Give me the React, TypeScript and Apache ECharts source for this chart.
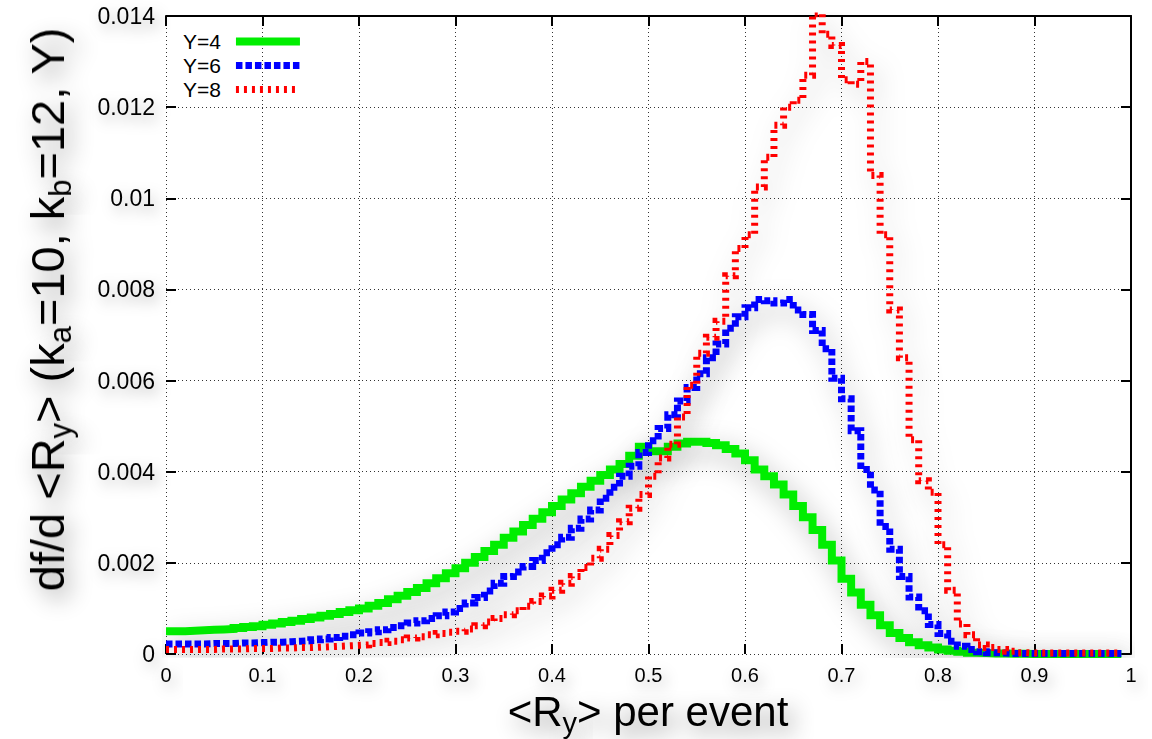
import React, { useEffect, useRef } from "react";
import * as echarts from "echarts";

// Histogram bins: bin i spans [i*BIN_WIDTH, (i+1)*BIN_WIDTH]; values in units of 1e-3
const BIN_WIDTH = 0.01;
const VALUE_UNIT = 1e-3;

const SERIES_NAMES = ["Y=4", "Y=6", "Y=8"];

const Y4_VALUES = [
  0.50, 0.50, 0.51, 0.52, 0.53, 0.54, 0.55, 0.57, 0.59, 0.61,
  0.64, 0.67, 0.70, 0.73, 0.77, 0.80, 0.84, 0.88, 0.92, 0.96,
  1.00, 1.06, 1.12, 1.20, 1.28, 1.36, 1.45, 1.55, 1.66, 1.77,
  1.88, 2.00, 2.13, 2.26, 2.40, 2.55, 2.69, 2.83, 2.97, 3.11,
  3.25, 3.39, 3.53, 3.67, 3.80, 3.93, 4.05, 4.17, 4.35, 4.55,
  4.45, 4.45, 4.55, 4.62, 4.66, 4.66, 4.63, 4.58, 4.50, 4.40,
  4.25, 4.05, 3.90, 3.72, 3.50, 3.25, 3.00, 2.72, 2.40, 2.05,
  1.65, 1.35, 1.08, 0.85, 0.63, 0.46, 0.35, 0.26, 0.19, 0.14,
  0.10, 0.07, 0.05, 0.03, 0.02, 0.01, 0.01, 0.005, 0.005, 0,
  0, 0, 0, 0, 0, 0, 0, 0, 0,
];

const Y6_VALUES = [
  0.22, 0.22, 0.22, 0.22, 0.23, 0.23, 0.23, 0.24, 0.24, 0.25,
  0.26, 0.26, 0.27, 0.28, 0.29, 0.31, 0.33, 0.36, 0.39, 0.42,
  0.46, 0.49, 0.53, 0.58, 0.62, 0.68, 0.73, 0.78, 0.84, 0.92,
  1.00, 1.12, 1.24, 1.38, 1.55, 1.70, 1.80, 1.92, 2.05, 2.22,
  2.40, 2.56, 2.76, 2.96, 3.16, 3.42, 3.66, 3.90, 4.12, 4.42,
  4.68, 4.95, 5.25, 5.55, 5.85, 6.15, 6.50, 6.80, 7.15, 7.40,
  7.60, 7.78, 7.75, 7.70, 7.78, 7.55, 7.45, 7.10, 6.70, 6.05,
  5.60, 4.90, 4.05, 3.60, 2.80, 2.30, 1.70, 1.25, 0.95, 0.65,
  0.45, 0.28, 0.17, 0.10, 0.05, 0.03, 0.02, 0.01, 0.01, 0.01,
  0.01, 0.01, 0.01, 0.01, 0.01, 0.01, 0.01, 0.01, 0.01,
];

const Y8_VALUES = [
  0.10, 0.10, 0.10, 0.10, 0.10, 0.11, 0.11, 0.11, 0.12, 0.12,
  0.12, 0.13, 0.13, 0.14, 0.14, 0.15, 0.16, 0.17, 0.18, 0.19,
  0.20, 0.23, 0.25, 0.28, 0.31, 0.35, 0.38, 0.42, 0.45, 0.48,
  0.50, 0.55, 0.62, 0.70, 0.78, 0.86, 0.95, 1.05, 1.15, 1.27,
  1.40, 1.55, 1.70, 1.90, 2.10, 2.30, 2.60, 2.90, 3.20, 3.50,
  3.90, 4.30, 4.60, 5.20, 5.90, 6.60, 6.95, 7.30, 8.30, 8.90,
  9.20, 10.25, 10.90, 11.60, 12.00, 12.15, 12.70, 14.05, 13.60, 13.35,
  12.60, 12.50, 13.00, 10.50, 9.20, 7.55, 6.50, 4.70, 3.80, 3.55,
  2.40, 1.40, 0.66, 0.42, 0.20, 0.14, 0.10, 0.06, 0.03, 0.02,
  0.02, 0.02, 0.02, 0.02, 0.02, 0.02, 0.02, 0.02, 0.02,
];

const X_MIN = 0;
const X_MAX = 1;
const X_INTERVAL = 0.1;
const Y_MIN = 0;
const Y_MAX = 0.014;
const Y_INTERVAL = 0.002;

// Axis titles: [text, isSubscript]
const X_TITLE_PARTS: [string, boolean][] = [["<R", false], ["y", true], ["> per event", false]];
const Y_TITLE_PARTS: [string, boolean][] = [
  ["df/d <R", false], ["y", true], ["> (k", false], ["a", true],
  ["=10, k", false], ["b", true], ["=12, Y)", false],
];

const FONT = "'Liberation Sans', Arial, Helvetica, sans-serif";

const GREEN = "#00ee00";
const BLUE = "#0000ff";
const RED = "#ff0000";

const STYLE_Y4 = { color: GREEN, width: 8, type: "solid" as any, join: "miter", cap: "butt" };
const STYLE_Y6 = { color: BLUE, width: 7, type: [6.5, 3] as any, join: "miter", cap: "butt" };
const STYLE_Y8 = { color: RED, width: 7, type: [3, 5] as any, join: "miter", cap: "butt" };

const SHADOW = { shadowColor: "rgba(0,0,0,0.28)", shadowBlur: 26, shadowOffsetX: 6, shadowOffsetY: 9 };
const LABEL_SHADOW = { textShadowColor: "rgba(0,0,0,0.3)", textShadowBlur: 14, textShadowOffsetX: 4, textShadowOffsetY: 6 };

function toSteps(vals: number[]): number[][] {
  const pts = vals.map((v, i) => [+(i * BIN_WIDTH).toFixed(4), v * VALUE_UNIT]);
  pts.push([+(vals.length * BIN_WIDTH).toFixed(4), vals[vals.length - 1] * VALUE_UNIT]);
  return pts;
}

// Lay out a title with subscripts as a row of text pieces centred on the group's origin.
function composeTitle(
  parts: [string, boolean][], mainSize: number, subSize: number, subDy: number,
  shadowDx: number, shadowDy: number
): any[] {
  const ctx = document.createElement("canvas").getContext("2d")!;
  let x = 0;
  const items: any[] = [];
  for (const [text, sub] of parts) {
    const size = sub ? subSize : mainSize;
    ctx.font = `${size}px 'Liberation Sans', Arial, sans-serif`;
    const w = ctx.measureText(text).width;
    items.push({
      type: "text", x, y: sub ? subDy : 0,
      style: {
        text, fontSize: size, fontFamily: FONT, fill: "#000", align: "left", verticalAlign: "middle",
        textShadowColor: "rgba(0,0,0,0.45)", textShadowBlur: 22,
        textShadowOffsetX: shadowDx, textShadowOffsetY: shadowDy,
      },
    });
    x += w;
  }
  for (const it of items) it.x -= x / 2;
  return items;
}

const fmtX = (v: number) => String(Math.round(v * 10) / 10);
const fmtY = (v: number) => String(parseFloat(v.toFixed(3)));

export default function App() {
  const ref = useRef<HTMLDivElement>(null);

  useEffect(() => {
    if (!ref.current) return;
    const chart = echarts.init(ref.current, undefined, { renderer: "svg" });

    const frameLineShadow = {
      show: true, onZero: false,
      lineStyle: { color: "#000", width: 2, shadowColor: "rgba(0,0,0,0.3)", shadowBlur: 18, shadowOffsetX: 5, shadowOffsetY: 7 },
    };
    const frameLine = { show: true, onZero: false, lineStyle: { color: "#000", width: 2 } };
    const tick = { show: true, inside: true, length: 10, lineStyle: { color: "#000", width: 2 } };
    const grid = { show: true, lineStyle: { color: "#333", type: [1, 3], width: 1 } };

    const option: any = {
      animation: false,
      backgroundColor: "#ffffff",
      grid: { left: 166, top: 16, width: 965, height: 638, containLabel: false },
      legend: {
        orient: "vertical",
        left: 178,
        top: 26,
        align: "right",
        itemWidth: 64,
        itemHeight: 14,
        itemGap: 3,
        selectedMode: false,
        itemStyle: { opacity: 0 },
        textStyle: { fontSize: 21, fontFamily: FONT, color: "#000", padding: [0, 10, 0, 0] },
        data: [
          { name: SERIES_NAMES[0], lineStyle: { ...STYLE_Y4 } },
          { name: SERIES_NAMES[1], lineStyle: { ...STYLE_Y6 } },
          { name: SERIES_NAMES[2], lineStyle: { ...STYLE_Y8 } },
        ],
      },
      xAxis: [
        {
          type: "value", min: X_MIN, max: X_MAX, interval: X_INTERVAL, position: "bottom",
          axisLine: frameLineShadow, axisTick: tick, splitLine: grid,
          axisLabel: { color: "#000", fontSize: 20, fontFamily: FONT, margin: 11, formatter: fmtX, ...LABEL_SHADOW },
        },
        {
          type: "value", min: X_MIN, max: X_MAX, interval: X_INTERVAL, position: "top",
          axisLine: frameLine, axisTick: tick, splitLine: { show: false }, axisLabel: { show: false },
        },
      ],
      yAxis: [
        {
          type: "value", min: Y_MIN, max: Y_MAX, interval: Y_INTERVAL, position: "left",
          axisLine: frameLineShadow, axisTick: tick, splitLine: grid,
          axisLabel: { color: "#000", fontSize: 23, fontFamily: FONT, margin: 11, formatter: fmtY, ...LABEL_SHADOW },
        },
        {
          type: "value", min: Y_MIN, max: Y_MAX, interval: Y_INTERVAL, position: "right",
          axisLine: frameLine, axisTick: tick, splitLine: { show: false }, axisLabel: { show: false },
        },
      ],
      series: [
        {
          name: SERIES_NAMES[0], type: "line", step: "end", symbol: "none", clip: true,
          data: toSteps(Y4_VALUES),
          lineStyle: { ...STYLE_Y4, ...SHADOW },
          itemStyle: { color: GREEN },
        },
        {
          name: SERIES_NAMES[1], type: "line", step: "end", symbol: "none", clip: true,
          data: toSteps(Y6_VALUES),
          lineStyle: { ...STYLE_Y6, ...SHADOW },
          itemStyle: { color: BLUE },
        },
        {
          name: SERIES_NAMES[2], type: "line", step: "end", symbol: "none", clip: true,
          data: toSteps(Y8_VALUES),
          lineStyle: { ...STYLE_Y8, ...SHADOW },
          itemStyle: { color: RED },
        },
      ],
      graphic: [
        {
          type: "group", x: 648, y: 711, z: 10,
          children: composeTitle(X_TITLE_PARTS, 42, 29, 12, 6, 9),
        },
        {
          type: "group", x: 47, y: 309, rotation: Math.PI / 2, z: 10,
          children: composeTitle(Y_TITLE_PARTS, 47, 31, 13, -9, 6),
        },
      ],
    };

    chart.setOption(option);
    return () => chart.dispose();
  }, []);

  return (
    <div
      ref={ref}
      style={{ position: "absolute", left: 0, top: 0, width: 1152, height: 739, background: "#fff" }}
    />
  );
}
